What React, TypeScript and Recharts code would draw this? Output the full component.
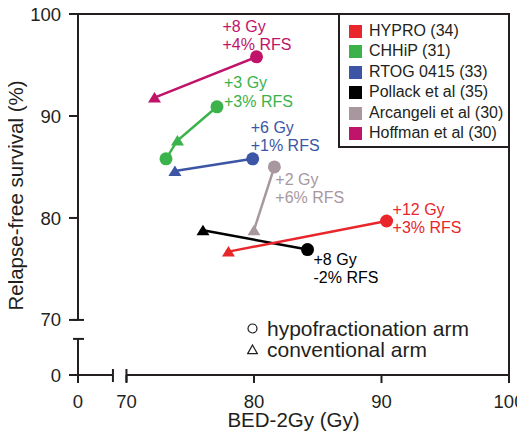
import React from "react";
import { ScatterChart, Scatter, XAxis, YAxis, ReferenceLine, Label } from "recharts";

// ---- data ----
const STUDIES = [
  "HYPRO (34)",
  "CHHiP (31)",
  "RTOG 0415 (33)",
  "Pollack et al (35)",
  "Arcangeli et al (30)",
  "Hoffman et al (30)",
];

const HYPRO_BED = [90.4, 78.0];
const HYPRO_RFS = [79.7, 76.7];
const HYPRO_ARM = ["hypo", "conv"];

const CHHIP_BED = [77.1, 74.0, 73.1];
const CHHIP_RFS = [90.9, 87.6, 85.8];
const CHHIP_ARM = ["hypo", "conv", "hypo"];

const RTOG_BED = [79.9, 73.8];
const RTOG_RFS = [85.8, 84.6];
const RTOG_ARM = ["hypo", "conv"];

const POLLACK_BED = [84.2, 76.0];
const POLLACK_RFS = [76.9, 78.8];
const POLLACK_ARM = ["hypo", "conv"];

const ARCANGELI_BED = [81.6, 80.0];
const ARCANGELI_RFS = [85.0, 78.8];
const ARCANGELI_ARM = ["hypo", "conv"];

const HOFFMAN_BED = [80.2, 72.2];
const HOFFMAN_RFS = [95.8, 91.8];
const HOFFMAN_ARM = ["hypo", "conv"];

const GAIN_GY = ["+12 Gy", "+3 Gy", "+6 Gy", "+8 Gy", "+2 Gy", "+8 Gy"];
const GAIN_RFS = ["+3% RFS", "+3% RFS", "+1% RFS", "-2% RFS", "+6% RFS", "+4% RFS"];

const ARM_LABELS = ["hypofractionation arm", "conventional arm"];

// broken-axis layout: the "0" tick sits just before the break
const X_ZERO = 66.2;
const X_BREAK = 68.94;
const Y_ZERO = 64.6;
const Y_BREAK = 68.14;
const X_TICKS = [X_ZERO, 70, 80, 90, 100];
const X_TICK_LABELS = ["0", "70", "80", "90", "100"];
const Y_TICKS = [Y_ZERO, 70, 80, 90, 100];
const Y_TICK_LABELS = ["0", "70", "80", "90", "100"];

// ---- styles ----
const COLORS = ["#e8262c", "#3bb34a", "#3c56a5", "#000000", "#a8979f", "#c0136a"];
const AX = "#231f20";
const FONT = "'Liberation Sans', Arial, Helvetica, sans-serif";
const LABEL_STYLE = [
  { dx: 6, dy: [-6, 12] },
  { dx: 7, dy: [-19, 0] },
  { dx: -2, dy: [-26, -8] },
  { dx: 6, dy: [15, 33] },
  { dx: 1, dy: [18, 36] },
  { dx: -34, dy: [-25, -7] },
];
const DRAW_ORDER = [5, 1, 2, 4, 3, 0];

const SERIES = [
  { bed: HYPRO_BED, rfs: HYPRO_RFS, arm: HYPRO_ARM },
  { bed: CHHIP_BED, rfs: CHHIP_RFS, arm: CHHIP_ARM },
  { bed: RTOG_BED, rfs: RTOG_RFS, arm: RTOG_ARM },
  { bed: POLLACK_BED, rfs: POLLACK_RFS, arm: POLLACK_ARM },
  { bed: ARCANGELI_BED, rfs: ARCANGELI_RFS, arm: ARCANGELI_ARM },
  { bed: HOFFMAN_BED, rfs: HOFFMAN_RFS, arm: HOFFMAN_ARM },
];

const rowsFor = (i: number) =>
  SERIES[i].bed.map((x, j) => ({
    x,
    y: SERIES[i].rfs[j],
    arm: SERIES[i].arm[j],
    annotate: j === 0,
  }));

const makeShape = (i: number) => (props: any) => {
  const { cx, cy, payload } = props;
  const c = COLORS[i];
  const mark =
    payload.arm === "hypo" ? (
      <circle cx={cx} cy={cy} r={6.5} fill={c} />
    ) : (
      <polygon
        points={`${cx},${cy - 5.5} ${cx + 6.5},${cy + 5} ${cx - 6.5},${cy + 5}`}
        fill={c}
      />
    );
  const ls = LABEL_STYLE[i];
  return (
    <g>
      {mark}
      {payload.annotate && (
        <text fontSize={16} fill={c} fontFamily={FONT}>
          <tspan x={cx + ls.dx} y={cy + ls.dy[0]}>
            {GAIN_GY[i]}
          </tspan>
          <tspan x={cx + ls.dx} y={cy + ls.dy[1]}>
            {GAIN_RFS[i]}
          </tspan>
        </text>
      )}
    </g>
  );
};

const seg = (x1: number, y1: number, x2: number, y2: number, key: string) => (
  <ReferenceLine
    key={key}
    segment={[
      { x: x1, y: y1 },
      { x: x2, y: y2 },
    ]}
    stroke={AX}
    strokeWidth={2}
    ifOverflow="visible"
  />
);

const YTitle = (props: any) => {
  const vb = props.viewBox || { x: 8, y: 14, width: 70, height: 361 };
  const x = vb.x + 15;
  const y = vb.y + vb.height / 2 + 1;
  return (
    <text
      x={x}
      y={y}
      transform={`rotate(-90 ${x} ${y})`}
      textAnchor="middle"
      fontSize={20.5}
      fill={AX}
      fontFamily={FONT}
    >
      Relapse-free survival (%)
    </text>
  );
};

export default function App() {
  return (
    <div
      style={{
        position: "relative",
        width: 525,
        height: 441,
        marginTop: -8,
        marginLeft: -8,
        fontFamily: FONT,
      }}
    >
      <ScatterChart
        width={525}
        height={441}
        margin={{ top: 14, right: 16, bottom: 8, left: 8 }}
      >
        <XAxis
          type="number"
          dataKey="x"
          domain={[X_ZERO, 100]}
          allowDataOverflow
          ticks={X_TICKS}
          interval={0}
          tickFormatter={(v: number) => X_TICK_LABELS[X_TICKS.indexOf(v)]}
          axisLine={false}
          tickSize={8}
          tickMargin={12}
          tick={{ fontSize: 18.5, fill: AX, fontFamily: FONT }}
          tickLine={{ stroke: AX, strokeWidth: 2 }}
          height={58}
        >
          <Label
            value="BED-2Gy (Gy)"
            position="insideBottom"
            offset={6}
            fontSize={20.5}
            fill={AX}
            fontFamily={FONT}
          />
        </XAxis>
        <YAxis
          type="number"
          dataKey="y"
          domain={[Y_ZERO, 100]}
          allowDataOverflow
          ticks={Y_TICKS}
          interval={0}
          tickFormatter={(v: number) => Y_TICK_LABELS[Y_TICKS.indexOf(v)]}
          axisLine={false}
          tickSize={9}
          tickMargin={8}
          tick={{ fontSize: 18.5, fill: AX, fontFamily: FONT }}
          tickLine={{ stroke: AX, strokeWidth: 2 }}
          width={70}
        >
          <Label content={<YTitle />} />
        </YAxis>

        {seg(X_ZERO, 70, X_ZERO, 100, "yUpper")}
        {seg(X_ZERO, Y_ZERO, X_ZERO, Y_BREAK, "yLower")}
        {seg(X_ZERO - 0.39, 70, X_ZERO + 0.47, 70, "yCap1")}
        {seg(X_ZERO - 0.39, Y_BREAK, X_ZERO + 0.47, Y_BREAK, "yCap2")}
        {seg(X_ZERO, Y_ZERO, X_BREAK, Y_ZERO, "xLeft")}
        {seg(70, Y_ZERO, 100, Y_ZERO, "xRight")}
        {seg(X_BREAK, Y_ZERO + 0.59, X_BREAK, Y_ZERO - 0.69, "xCap1")}
        {seg(70, Y_ZERO + 0.59, 70, Y_ZERO - 0.69, "xCap2")}
        {seg(X_ZERO, 100, 100, 100, "top")}
        {seg(100, Y_ZERO, 100, 100, "right")}

        {DRAW_ORDER.map((i) => (
          <Scatter
            key={STUDIES[i]}
            name={STUDIES[i]}
            data={rowsFor(i)}
            fill={COLORS[i]}
            line={{ stroke: COLORS[i], strokeWidth: 2.5 }}
            lineType="joint"
            shape={makeShape(i)}
            isAnimationActive={false}
          />
        ))}
      </ScatterChart>

      {/* study legend */}
      <div
        style={{
          position: "absolute",
          left: 338,
          top: 13,
          width: 172,
          height: 135,
          boxSizing: "border-box",
          border: `2px solid ${AX}`,
          background: "#fff",
          paddingTop: 5.75,
          paddingLeft: 9,
        }}
      >
        {STUDIES.map((s, i) => (
          <div
            key={s}
            style={{
              display: "flex",
              alignItems: "center",
              height: 20.5,
              fontSize: 16,
              lineHeight: "20.5px",
              color: AX,
              whiteSpace: "nowrap",
            }}
          >
            <span
              style={{
                display: "inline-block",
                width: 13,
                height: 13,
                background: COLORS[i],
                marginRight: 7,
              }}
            />
            {s}
          </div>
        ))}
      </div>

      {/* marker legend */}
      <div style={{ position: "absolute", left: 247, top: 318 }}>
        {ARM_LABELS.map((a, k) => (
          <div
            key={a}
            style={{
              display: "flex",
              alignItems: "center",
              height: 21,
              fontSize: 21,
              lineHeight: "21px",
              color: AX,
              whiteSpace: "nowrap",
            }}
          >
            <svg width={11} height={11} style={{ marginRight: 9 }}>
              {k === 0 ? (
                <circle cx={5.5} cy={5.5} r={4.5} fill="none" stroke={AX} strokeWidth={1.2} />
              ) : (
                <polygon points="5.5,1 10.3,9.6 0.7,9.6" fill="none" stroke={AX} strokeWidth={1.2} />
              )}
            </svg>
            {a}
          </div>
        ))}
      </div>
    </div>
  );
}
